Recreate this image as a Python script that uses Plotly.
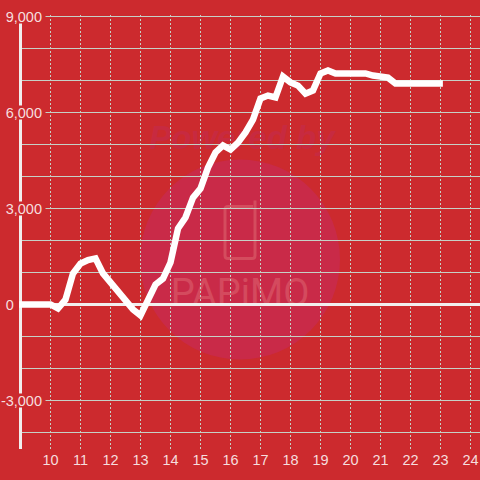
import plotly.graph_objects as go

# ---- data ----
hours = [8.88, 9, 10, 10.25, 10.5, 10.75, 11, 11.25, 11.5, 11.75, 12, 12.25, 12.5, 12.75,
         13, 13.25, 13.5, 13.75, 14, 14.25, 14.5, 14.75, 15, 15.25, 15.5, 15.75,
         16, 16.25, 16.5, 16.75, 17, 17.25, 17.5, 17.75, 18, 18.25, 18.5, 18.75,
         19, 19.25, 19.5, 20, 20.5, 20.75, 21, 21.25, 21.5, 22, 23, 23.08]
values = [0, 0, 0, -125, 150, 970, 1280, 1390, 1440, 970, 690, 375, 95, -155,
          -340, 155, 625, 810, 1310, 2375, 2720, 3340, 3625, 4280, 4750, 4970,
          4840, 5060, 5375, 5780, 6440, 6530, 6470, 7125, 6940, 6840, 6590, 6690,
          7220, 7310, 7220, 7220, 7220, 7155, 7125, 7090, 6905, 6905, 6905, 6905]
x_ticks = list(range(10, 25))
y_ticks = [9000, 8000, 7000, 6000, 5000, 4000, 3000, 2000, 1000, 0, -1000, -2000, -3000, -4000]
y_labels = ["9,000", "", "", "6,000", "", "", "3,000", "", "", "0" + "\u00a0" * 7, "", "", "-3,000", ""]

BG = "#cc2a2e"
WHITE = "#f1eeee"
LABEL = "#f6dede"
GRID = "#c6d0c6"
FONT = "Liberation Sans"
WM_X, WM_Y = 16.317, 1406      # watermark centre in axis units

shapes = [
    # watermark
    dict(type="circle", layer="below", xsizemode="pixel", ysizemode="pixel", xanchor=WM_X, yanchor=WM_Y,
         x0=-100, x1=100, y0=-100, y1=100, fillcolor="#c92a48", line_width=0),
    dict(type="path", layer="below", xsizemode="pixel", ysizemode="pixel", xanchor=WM_X, yanchor=WM_Y,
         path="M 13 53 L -12 53 Q -15 53 -15 50 L -15 4 Q -15 1 -12 1 L 12 1 Q 15 1 15 4 L 15 59",
         line=dict(color="#d44c5e", width=3)),
    dict(type="rect", layer="below", xref="x", yref="y", x0=14.0, x1=18.634, y0=-60, y1=940,
         line_width=0, fillcolor="rgba(0,0,0,0)",
         label=dict(text="PAPiMO", textposition="middle center",
                    font=dict(family="Roboto", size=38, color="#d44a5e"))),
    dict(type="rect", layer="below", xref="x", yref="y", x0=13.0, x1=19.76, y0=4800, y1=5830,
         line_width=0, fillcolor="rgba(0,0,0,0)",
         label=dict(text="<b><i>Powered by</i></b>", textposition="middle center",
                    font=dict(family=FONT, size=33, color="#c72a40"))),
    # axis line, under the label masks
    dict(type="line", layer="between", xref="x", yref="y", x0=9, x1=9, y0=-4516, y1=9047,
         line=dict(color=WHITE, width=3)),
]
# masks behind the labelled y ticks (the zero label sits clear of the axis)
for t, lab in zip(y_ticks, y_labels):
    if lab and t != 0:
        shapes.append(dict(type="rect", layer="between", xsizemode="pixel", ysizemode="pixel",
                           xanchor=9, yanchor=t, x0=-2, x1=25, y0=-7, y1=7,
                           fillcolor=BG, line_width=0))

fig = go.Figure(go.Scatter(x=hours, y=values, mode="lines", cliponaxis=False, hoverinfo="skip",
                           line=dict(color="#ffffff", width=6.5)))

fig.update_layout(
    width=480, height=480, autosize=False,
    margin=dict(l=19, r=0, t=15, b=31, pad=0),
    paper_bgcolor=BG, plot_bgcolor=BG, showlegend=False,
    font=dict(family=FONT, size=14.5, color=LABEL),
    shapes=shapes,
    xaxis=dict(range=[8.95, 24.317], tickmode="array", tickvals=x_ticks, ticktext=[str(v) for v in x_ticks],
               showgrid=True, gridcolor=GRID, gridwidth=1, griddash="2px,2px",
               zeroline=False, showline=False, ticks="", tickfont=dict(size=14.5, color=LABEL), ticklabelstandoff=0),
    yaxis=dict(range=[-4516, 9047], tickmode="array", tickvals=y_ticks, ticktext=y_labels,
               showgrid=True, gridcolor=GRID, gridwidth=1,
               zeroline=True, zerolinecolor=WHITE, zerolinewidth=3,
               showline=False, ticks="", ticklabelstandoff=-24, tickfont=dict(size=14.5, color=LABEL)),
)

fig.write_html("out.html", config=dict(displayModeBar=False),
               post_script="document.body.style.margin='0';document.body.style.background='%s';" % BG)
